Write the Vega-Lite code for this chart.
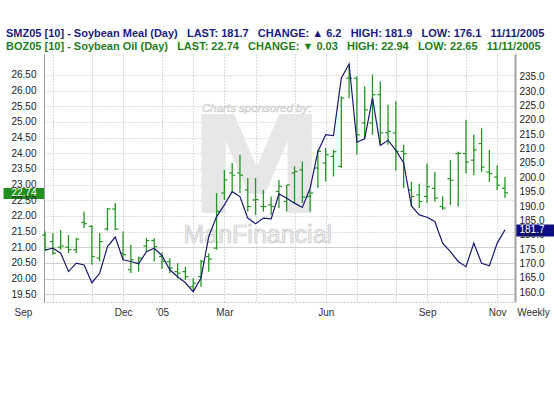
{
  "$schema": "https://vega.github.io/schema/vega-lite/v6.json",
  "description": "Soybean meal and soybean oil futures, weekly bars, Sep 2004 - Nov 2005",
  "width": 471,
  "height": 248,
  "autosize": "none",
  "padding": {"left": 44, "top": 54, "right": 39, "bottom": 98},
  "background": "white",
  "config": {
    "font": "Liberation Sans",
    "view": {"stroke": null},
    "axisX": {"labelOverlap": false, "labelFlush": false, "labelBound": false}
  },
  "title": {
    "text": "SMZ05 [10] - Soybean Meal (Day)\u00a0\u00a0\u00a0LAST: 181.7\u00a0\u00a0\u00a0CHANGE: \u25b2 6.2\u00a0\u00a0\u00a0HIGH: 181.9\u00a0\u00a0\u00a0LOW: 176.1\u00a0\u00a0\u00a011/11/2005",
    "subtitle": "BOZ05 [10] - Soybean Oil (Day)\u00a0\u00a0\u00a0LAST: 22.74\u00a0\u00a0\u00a0CHANGE: \u25bc 0.03\u00a0\u00a0\u00a0HIGH: 22.94\u00a0\u00a0\u00a0LOW: 22.65\u00a0\u00a0\u00a011/11/2005",
    "anchor": "start",
    "frame": "group",
    "dx": -38,
    "offset": 2,
    "font": "Liberation Sans",
    "fontSize": 11,
    "fontWeight": "bold",
    "color": "#1c1c80",
    "subtitleFont": "Liberation Sans",
    "subtitleFontSize": 11,
    "subtitleFontWeight": "bold",
    "subtitleColor": "#1e7e1e",
    "subtitlePadding": 2
  },
  "data": {
    "values": [
      {"date": "2004/09/24", "open": 21.39, "high": 21.50, "low": 20.88, "close": 20.92, "meal": 174.7},
      {"date": "2004/10/01", "open": 21.18, "high": 21.45, "low": 20.76, "close": 20.81, "meal": 175.3},
      {"date": "2004/10/08", "open": 21.00, "high": 21.55, "low": 20.92, "close": 21.04, "meal": 173.6},
      {"date": "2004/10/15", "open": 21.00, "high": 21.39, "low": 20.81, "close": 20.92, "meal": 167.2},
      {"date": "2004/10/22", "open": 20.92, "high": 21.29, "low": 20.81, "close": 21.26, "meal": 170.1},
      {"date": "2004/10/29", "open": 21.79, "high": 22.14, "low": 21.61, "close": 21.75, "meal": 169.5},
      {"date": "2004/11/05", "open": 21.66, "high": 21.71, "low": 20.44, "close": 20.70, "meal": 163.3},
      {"date": "2004/11/12", "open": 20.65, "high": 21.45, "low": 20.54, "close": 21.18, "meal": 166.6},
      {"date": "2004/11/19", "open": 21.58, "high": 22.25, "low": 21.53, "close": 22.22, "meal": 175.9},
      {"date": "2004/11/26", "open": 22.22, "high": 22.41, "low": 21.55, "close": 21.58, "meal": 179.2},
      {"date": "2004/12/03", "open": 20.81, "high": 21.50, "low": 20.60, "close": 20.76, "meal": 171.3},
      {"date": "2004/12/10", "open": 20.28, "high": 21.08, "low": 20.17, "close": 20.60, "meal": 170.7},
      {"date": "2004/12/17", "open": 20.49, "high": 20.70, "low": 20.22, "close": 20.65, "meal": 169.9},
      {"date": "2004/12/24", "open": 21.04, "high": 21.29, "low": 20.86, "close": 21.21, "meal": 174.1},
      {"date": "2004/12/31", "open": 21.21, "high": 21.29, "low": 20.54, "close": 21.02, "meal": 175.3},
      {"date": "2005/01/07", "open": 20.70, "high": 20.84, "low": 20.30, "close": 20.55, "meal": 172.7},
      {"date": "2005/01/14", "open": 20.54, "high": 20.65, "low": 20.17, "close": 20.33, "meal": 167.8},
      {"date": "2005/01/21", "open": 20.22, "high": 20.49, "low": 20.01, "close": 20.17, "meal": 165.4},
      {"date": "2005/01/28", "open": 20.22, "high": 20.38, "low": 19.96, "close": 20.06, "meal": 163.3},
      {"date": "2005/02/04", "open": 19.74, "high": 20.01, "low": 19.60, "close": 19.85, "meal": 160.2},
      {"date": "2005/02/11", "open": 20.06, "high": 20.60, "low": 19.74, "close": 20.54, "meal": 164.9},
      {"date": "2005/02/18", "open": 20.70, "high": 20.81, "low": 20.22, "close": 20.62, "meal": 179.4},
      {"date": "2005/02/25", "open": 20.97, "high": 22.73, "low": 20.92, "close": 22.14, "meal": 186.3},
      {"date": "2005/03/04", "open": 22.73, "high": 23.47, "low": 22.51, "close": 23.15, "meal": 190.4},
      {"date": "2005/03/11", "open": 23.37, "high": 23.69, "low": 22.73, "close": 23.30, "meal": 195.0},
      {"date": "2005/03/18", "open": 23.37, "high": 23.95, "low": 22.73, "close": 23.30, "meal": 193.3},
      {"date": "2005/03/25", "open": 22.83, "high": 23.21, "low": 22.14, "close": 22.30, "meal": 185.8},
      {"date": "2005/04/01", "open": 22.51, "high": 23.21, "low": 22.03, "close": 22.52, "meal": 183.8},
      {"date": "2005/04/08", "open": 22.30, "high": 22.83, "low": 22.14, "close": 22.30, "meal": 185.8},
      {"date": "2005/04/15", "open": 22.35, "high": 22.62, "low": 22.03, "close": 22.30, "meal": 185.5},
      {"date": "2005/04/22", "open": 22.78, "high": 23.15, "low": 22.25, "close": 22.94, "meal": 194.2},
      {"date": "2005/04/29", "open": 22.46, "high": 22.99, "low": 22.14, "close": 22.99, "meal": 192.7},
      {"date": "2005/05/06", "open": 23.37, "high": 23.58, "low": 22.41, "close": 23.42, "meal": 191.0},
      {"date": "2005/05/13", "open": 23.47, "high": 23.74, "low": 22.41, "close": 22.60, "meal": 189.5},
      {"date": "2005/05/20", "open": 22.62, "high": 22.83, "low": 22.14, "close": 22.73, "meal": 196.2},
      {"date": "2005/05/27", "open": 23.53, "high": 24.11, "low": 22.89, "close": 24.06, "meal": 209.0},
      {"date": "2005/06/03", "open": 23.69, "high": 24.17, "low": 23.10, "close": 23.95, "meal": 214.8},
      {"date": "2005/06/10", "open": 23.90, "high": 24.11, "low": 23.26, "close": 24.05, "meal": 214.5},
      {"date": "2005/06/17", "open": 23.58, "high": 25.82, "low": 23.53, "close": 25.76, "meal": 234.5},
      {"date": "2005/06/24", "open": 26.40, "high": 26.83, "low": 25.76, "close": 26.40, "meal": 239.4},
      {"date": "2005/07/01", "open": 26.40, "high": 26.45, "low": 23.95, "close": 24.59, "meal": 212.2},
      {"date": "2005/07/08", "open": 24.97, "high": 26.13, "low": 24.49, "close": 25.39, "meal": 213.4},
      {"date": "2005/07/15", "open": 24.97, "high": 26.51, "low": 24.59, "close": 25.87, "meal": 227.6},
      {"date": "2005/07/22", "open": 25.87, "high": 26.29, "low": 24.27, "close": 24.65, "meal": 211.1},
      {"date": "2005/07/29", "open": 24.65, "high": 25.55, "low": 24.27, "close": 24.70, "meal": 212.9},
      {"date": "2005/08/05", "open": 24.65, "high": 25.66, "low": 23.45, "close": 24.06, "meal": 209.4},
      {"date": "2005/08/12", "open": 24.06, "high": 24.27, "low": 22.89, "close": 23.99, "meal": 205.0},
      {"date": "2005/08/19", "open": 22.83, "high": 23.09, "low": 22.30, "close": 22.62, "meal": 190.0},
      {"date": "2005/08/26", "open": 22.67, "high": 23.03, "low": 22.25, "close": 22.46, "meal": 186.9},
      {"date": "2005/09/02", "open": 22.62, "high": 23.67, "low": 22.41, "close": 22.93, "meal": 186.1},
      {"date": "2005/09/09", "open": 22.88, "high": 23.40, "low": 22.46, "close": 22.57, "meal": 184.6},
      {"date": "2005/09/16", "open": 22.30, "high": 22.62, "low": 22.19, "close": 22.25, "meal": 177.1},
      {"date": "2005/09/23", "open": 23.19, "high": 23.78, "low": 22.35, "close": 23.14, "meal": 174.1},
      {"date": "2005/09/30", "open": 23.99, "high": 24.05, "low": 22.30, "close": 24.00, "meal": 170.7},
      {"date": "2005/10/07", "open": 23.99, "high": 25.07, "low": 23.35, "close": 23.72, "meal": 168.9},
      {"date": "2005/10/14", "open": 23.78, "high": 24.59, "low": 23.30, "close": 24.11, "meal": 177.1},
      {"date": "2005/10/21", "open": 24.31, "high": 24.80, "low": 23.40, "close": 23.56, "meal": 170.1},
      {"date": "2005/10/28", "open": 23.40, "high": 24.11, "low": 23.09, "close": 23.35, "meal": 169.2},
      {"date": "2005/11/04", "open": 23.24, "high": 23.62, "low": 22.83, "close": 22.98, "meal": 177.1},
      {"date": "2005/11/11", "open": 22.88, "high": 23.24, "low": 22.57, "close": 22.74, "meal": 181.7}
    ]
  },
  "layer": [
    {
      "data": {"values": [{}]},
      "mark": {"type": "text", "text": "M", "font": "DejaVu Sans", "fontWeight": "bold", "fontSize": 136, "align": "center", "baseline": "alphabetic", "fill": "#e7e7e7"},
      "encoding": {
        "x": {"datum": {"year": 2005, "month": 4, "date": 2}, "type": "temporal"},
        "y": {"datum": 22.1, "type": "quantitative", "scale": {"domain": [19.25, 27.17], "nice": false, "zero": false}, "axis": null}
      }
    },
    {
      "data": {"values": [{}]},
      "mark": {"type": "text", "text": "Charts sponsored by:", "fontStyle": "italic", "fontSize": 11.5, "align": "center", "baseline": "middle", "fill": "#e2e2e2", "stroke": "#c6c6c6", "strokeWidth": 0.4},
      "encoding": {
        "x": {"datum": {"year": 2005, "month": 4, "date": 2}, "type": "temporal"},
        "y": {"datum": 25.42, "type": "quantitative", "scale": {"domain": [19.25, 27.17], "nice": false, "zero": false}, "axis": null}
      }
    },
    {
      "data": {"values": [{}]},
      "mark": {"type": "text", "text": "ManFinancial", "fontSize": 25, "align": "center", "baseline": "alphabetic", "fill": "#eeeeee", "stroke": "#c8c8c8", "strokeWidth": 0.7},
      "encoding": {
        "x": {"datum": {"year": 2005, "month": 4, "date": 3}, "type": "temporal"},
        "y": {"datum": 21.14, "type": "quantitative", "scale": {"domain": [19.25, 27.17], "nice": false, "zero": false}, "axis": null}
      }
    },
    {
      "mark": {"type": "rule", "color": "#249624", "strokeWidth": 1.3},
      "encoding": {
        "x": {
          "field": "date",
          "type": "temporal",
          "scale": {"domain": [{"year": 2004, "month": 9, "date": 23}, {"year": 2005, "month": 11, "date": 20}], "nice": false},
          "axis": {
            "orient": "bottom",
            "title": null,
            "tickCount": 100,
            "values": [
              {"year": 2004, "month": 9, "date": 23},
              {"year": 2004, "month": 10, "date": 1},
              {"year": 2004, "month": 11, "date": 5},
              {"year": 2004, "month": 12, "date": 3},
              {"year": 2005, "month": 1, "date": 7},
              {"year": 2005, "month": 2, "date": 4},
              {"year": 2005, "month": 3, "date": 4},
              {"year": 2005, "month": 4, "date": 1},
              {"year": 2005, "month": 5, "date": 6},
              {"year": 2005, "month": 6, "date": 3},
              {"year": 2005, "month": 7, "date": 1},
              {"year": 2005, "month": 8, "date": 5},
              {"year": 2005, "month": 9, "date": 2},
              {"year": 2005, "month": 10, "date": 7},
              {"year": 2005, "month": 11, "date": 4},
              {"year": 2005, "month": 11, "date": 20}
            ],
            "labelExpr": "datum.value < datetime(2004,8,26) ? 'Sep' : datum.value > datetime(2005,10,15) ? 'Weekly' : year(datum.value) == 2004 ? (month(datum.value) == 11 ? 'Dec' : '') : month(datum.value) == 0 ? \"'05\" : month(datum.value) == 2 ? 'Mar' : month(datum.value) == 5 ? 'Jun' : month(datum.value) == 8 ? 'Sep' : month(datum.value) == 10 ? 'Nov' : ''",
            "labelOffset": {"condition": [{"test": "datum.value < datetime(2004,8,26)", "value": -21}, {"test": "datum.value > datetime(2005,10,15)", "value": 18}], "value": 0},
            "labelFlush": false,
            "labelOverlap": false,
            "labelBound": false,
            "labelFont": "Liberation Sans",
            "labelFontSize": 10,
            "labelColor": "#333333",
            "labelPadding": 5,
            "tickSize": 0,
            "domainColor": "#999999",
            "domainDash": [1, 2],
            "grid": true,
            "gridColor": "#b4b4b4",
            "gridDash": [1, 2]
          }
        },
        "y": {
          "field": "low",
          "type": "quantitative",
          "scale": {"domain": [19.25, 27.17], "nice": false, "zero": false},
          "axis": {
            "orient": "left",
            "title": null,
            "tickCount": 100,
            "values": [19.5, 20, 20.5, 21, 21.5, 22, 22.5, 22.74, 23, 23.5, 24, 24.5, 25, 25.5, 26, 26.5],
            "labelExpr": "format(datum.value, '.2f')",
            "labelFont": "Liberation Sans",
            "labelFontSize": 10,
            "labelOverlap": false,
            "labelColor": {"condition": {"test": "datum.value == 22.74", "value": "#ffffff"}, "value": "#222222"},
            "labelPadding": {"condition": {"test": "datum.value == 22.74", "value": -33}, "value": 8},
            "tickSize": {"condition": {"test": "datum.value == 22.74", "value": 41}, "value": 0},
            "tickWidth": {"condition": {"test": "datum.value == 22.74", "value": 11}, "value": 1},
            "tickColor": {"condition": {"test": "datum.value == 22.74", "value": "#1f8f1f"}, "value": "transparent"},
            "domainColor": "#9a9a9a",
            "grid": true,
            "gridColor": {"condition": {"test": "datum.value <= 21", "value": "#d0d0d0"}, "value": "#bdbdbd"},
            "gridDash": {"condition": {"test": "datum.value <= 21", "value": []}, "value": [1, 2]},
            "gridOpacity": {"condition": {"test": "datum.value == 22.74", "value": 0}, "value": 1}
          }
        },
        "y2": {"field": "high"}
      }
    },
    {
      "mark": {"type": "rule", "color": "#249624", "strokeWidth": 1.2, "xOffset": -3, "x2Offset": 0},
      "encoding": {
        "x": {"field": "date", "type": "temporal"},
        "x2": {"field": "date"},
        "y": {"field": "open", "type": "quantitative", "scale": {"domain": [19.25, 27.17], "nice": false, "zero": false}, "axis": null}
      }
    },
    {
      "mark": {"type": "rule", "color": "#249624", "strokeWidth": 1.2, "xOffset": 0, "x2Offset": 3},
      "encoding": {
        "x": {"field": "date", "type": "temporal"},
        "x2": {"field": "date"},
        "y": {"field": "close", "type": "quantitative", "scale": {"domain": [19.25, 27.17], "nice": false, "zero": false}, "axis": null}
      }
    },
    {
      "mark": {"type": "line", "color": "#1a1a72", "strokeWidth": 1.2},
      "encoding": {
        "x": {"field": "date", "type": "temporal"},
        "y": {
          "field": "meal",
          "type": "quantitative",
          "scale": {"domain": [156.6, 242.9], "nice": false, "zero": false},
          "axis": {
            "orient": "right",
            "title": null,
            "tickCount": 100,
            "values": [160, 165, 170, 175, 180, 181.7, 185, 190, 195, 200, 205, 210, 215, 220, 225, 230, 235],
            "labelExpr": "format(datum.value, '.1f')",
            "labelFont": "Liberation Sans",
            "labelFontSize": 10,
            "labelOverlap": false,
            "labelColor": {"condition": {"test": "datum.value == 181.7", "value": "#ffffff"}, "value": "#222222"},
            "labelPadding": {"condition": {"test": "datum.value == 181.7", "value": -35}, "value": 4},
            "tickSize": {"condition": {"test": "datum.value == 181.7", "value": 39}, "value": 0},
            "tickWidth": {"condition": {"test": "datum.value == 181.7", "value": 12}, "value": 1},
            "tickColor": {"condition": {"test": "datum.value == 181.7", "value": "#0c0c84"}, "value": "transparent"},
            "domainColor": "#a0a0a0",
            "domainWidth": 2,
            "grid": false
          }
        }
      }
    }
  ],
  "resolve": {"scale": {"y": "independent"}}
}
